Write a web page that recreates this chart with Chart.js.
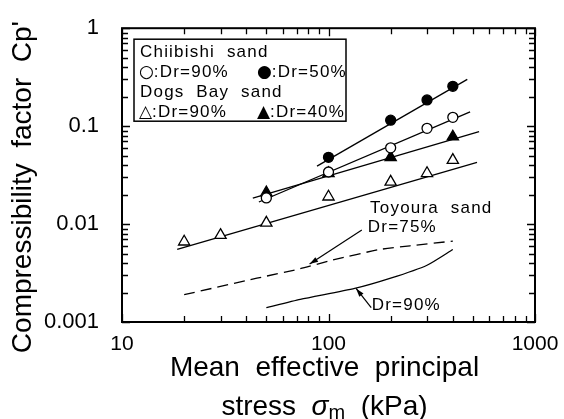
<!DOCTYPE html>
<html>
<head>
<meta charset="utf-8">
<script src="https://cdn.jsdelivr.net/npm/chart.js@4"></script>
<style>
  html, body { margin: 0; padding: 0; background: #fff; }
  #wrap { width: 564px; height: 419px; }
</style>
</head>
<body>
<div id="wrap"><canvas id="cpChart"></canvas></div>
<script>
// axis ticks
const xTicks = [10, 20, 30, 40, 50, 60, 70, 80, 90, 100, 200, 300, 400, 500, 600, 700, 800, 900, 1000];
const xMajor = [10, 100, 1000];
const yTicks = [0.001, 0.002, 0.003, 0.004, 0.005, 0.006, 0.007, 0.008, 0.009,
                0.01, 0.02, 0.03, 0.04, 0.05, 0.06, 0.07, 0.08, 0.09,
                0.1, 0.2, 0.3, 0.4, 0.5, 0.6, 0.7, 0.8, 0.9, 1];
const yMajor = [0.001, 0.01, 0.1, 1];

// measured points
const chiibishi90X = [50, 100, 200, 300, 400];
const chiibishi90Y = [0.0185, 0.034, 0.060, 0.095, 0.123];
const chiibishi50X = [100, 200, 300, 400];
const chiibishi50Y = [0.048, 0.115, 0.185, 0.255];
const dogsBay90X = [20, 30, 50, 100, 200, 300, 400];
const dogsBay90Y = [0.0066, 0.0077, 0.0103, 0.019, 0.027, 0.033, 0.045];
const dogsBay40X = [50, 100, 200, 400];
const dogsBay40Y = [0.021, 0.033, 0.048, 0.078];

// fitted lines (end points)
const chiibishi90FitX = [46, 485];
const chiibishi90FitY = [0.0168, 0.14];
const chiibishi50FitX = [88, 470];
const chiibishi50FitY = [0.039, 0.30];
const dogsBay90FitX = [18.5, 524];
const dogsBay90FitY = [0.0055, 0.0426];
const dogsBay40FitX = [43, 536];
const dogsBay40FitY = [0.0184, 0.088];

// Toyoura sand curves
const toyoura75X = [20, 45, 73, 105, 177, 248, 400];
const toyoura75Y = [0.0019, 0.0028, 0.0035, 0.0043, 0.0055, 0.0060, 0.0067];
const toyoura90X = [50, 73, 134, 200, 300, 400];
const toyoura90Y = [0.0014, 0.0017, 0.0022, 0.0028, 0.0038, 0.0055];

// annotations [kPa, Cp]
const toyouraLabel = { text: 'Toyoura  sand', at: [159, 0.0146] };
const dr75Label = { text: 'Dr=75%', at: [155, 0.0093], arrowFrom: [145, 0.0087], arrowTo: [81, 0.0039] };
const dr90Label = { text: 'Dr=90%', at: [162, 0.00147], arrowFrom: [161, 0.0014], arrowTo: [136, 0.0022] };

// legend rows: [symbol, text] pairs
const legendRows = [
    [['', 'Chiibishi  sand']],
    [['○', ':Dr=90%'], ['●', ':Dr=50%']],
    [['', 'Dogs  Bay  sand']],
    [['△', ':Dr=90%'], ['▲', ':Dr=40%']]
];

const FONT = '"Liberation Sans", Arial, "DejaVu Sans", sans-serif';
const SYMFONT = '"DejaVu Sans", sans-serif';

function pts(xs, ys) {
    return xs.map((x, i) => ({ x: x, y: ys[i] }));
}

function markerSet(xs, ys, style, filled, r) {
    return {
        data: pts(xs, ys),
        showLine: false,
        pointStyle: style,
        pointRadius: r,
        pointBorderWidth: 1.3,
        pointBorderColor: '#000',
        pointBackgroundColor: filled ? '#000' : '#fff'
    };
}

function lineSet(xs, ys, dash, tension) {
    return {
        data: pts(xs, ys),
        borderColor: '#000',
        borderWidth: 1.3,
        borderDash: dash || [],
        pointRadius: 0,
        tension: tension || 0,
        fill: false
    };
}

const ticksPlugin = {
    id: 'inTicks',
    afterDatasetsDraw(chart) {
        const ctx = chart.ctx;
        const a = chart.chartArea;
        const xs = chart.scales.x, ys = chart.scales.y;
        ctx.save();
        ctx.strokeStyle = '#000';
        ctx.lineWidth = 1.3;
        xTicks.forEach(v => {
            const p = Math.round(xs.getPixelForValue(v)) + 0.5;
            const len = xMajor.includes(v) ? 8 : 6;
            ctx.beginPath();
            ctx.moveTo(p, a.bottom);
            ctx.lineTo(p, a.bottom - len);
            ctx.moveTo(p, a.top);
            ctx.lineTo(p, a.top + len);
            ctx.stroke();
        });
        yTicks.forEach(v => {
            const p = Math.round(ys.getPixelForValue(v)) + 0.5;
            const len = yMajor.includes(v) ? 8 : 6;
            ctx.beginPath();
            ctx.moveTo(a.left, p);
            ctx.lineTo(a.left + len, p);
            ctx.moveTo(a.right, p);
            ctx.lineTo(a.right - len, p);
            ctx.stroke();
        });
        ctx.lineWidth = 2;
        ctx.strokeRect(a.left, a.top, a.right - a.left, a.bottom - a.top);
        ctx.restore();
    }
};

const notesPlugin = {
    id: 'notes',
    afterDraw(chart) {
        const ctx = chart.ctx;
        const a = chart.chartArea;
        const xs = chart.scales.x, ys = chart.scales.y;
        ctx.save();
        ctx.strokeStyle = '#000';
        ctx.fillStyle = '#000';

        // legend box
        const bx = a.left + 12, by = a.top + 11;
        ctx.fillStyle = '#fff';
        ctx.fillRect(bx, by, 212, 82);
        ctx.lineWidth = 1.5;
        ctx.strokeRect(bx, by, 212, 82);
        ctx.fillStyle = '#000';
        ctx.textBaseline = 'middle';
        ctx.textAlign = 'left';
        legendRows.forEach((row, i) => {
            const ty = by + 13 + i * 20;
            row.forEach((cell, j) => {
                let x = bx + 6 + j * 118;
                if (cell[0]) {
                    ctx.letterSpacing = '0px';
                    ctx.font = '17px ' + SYMFONT;
                    ctx.fillText(cell[0], x - 1, ty);
                    x += ctx.measureText(cell[0]).width - 1;
                }
                ctx.font = '17px ' + FONT;
                ctx.letterSpacing = '1.2px';
                ctx.fillText(cell[1], x, ty);
            });
        });

        // Toyoura annotations
        const px = (pt) => [xs.getPixelForValue(pt[0]), ys.getPixelForValue(pt[1])];
        ctx.font = '17px ' + FONT;
        ctx.letterSpacing = '1.2px';
        [toyouraLabel, dr75Label, dr90Label].forEach(l => {
            const p = px(l.at);
            ctx.fillText(l.text, p[0], p[1]);
        });
        ctx.letterSpacing = '0px';
        [dr75Label, dr90Label].forEach(l => {
            const f = px(l.arrowFrom), t = px(l.arrowTo);
            const ang = Math.atan2(t[1] - f[1], t[0] - f[0]);
            ctx.lineWidth = 1.2;
            ctx.beginPath();
            ctx.moveTo(f[0], f[1]);
            ctx.lineTo(t[0], t[1]);
            ctx.stroke();
            ctx.beginPath();
            ctx.moveTo(t[0], t[1]);
            ctx.lineTo(t[0] - 9 * Math.cos(ang - 0.3), t[1] - 9 * Math.sin(ang - 0.3));
            ctx.lineTo(t[0] - 9 * Math.cos(ang + 0.3), t[1] - 9 * Math.sin(ang + 0.3));
            ctx.closePath();
            ctx.fill();
        });

        // y axis title
        ctx.save();
        ctx.translate(31, (a.top + a.bottom) / 2 + 12);
        ctx.rotate(-Math.PI / 2);
        ctx.font = '28px ' + FONT;
        ctx.textAlign = 'center';
        ctx.textBaseline = 'alphabetic';
        ctx.fillText("Compressibility  factor  Cp'", 0, 0);
        ctx.restore();

        // x axis title, two lines with sigma_m
        const cx = (a.left + a.right) / 2 - 4;
        ctx.textBaseline = 'alphabetic';
        ctx.textAlign = 'center';
        ctx.font = '28px ' + FONT;
        ctx.fillText('Mean  effective  principal', cx, 376);
        ctx.textAlign = 'left';
        const parts = [
            { t: 'stress  ', f: '28px ' + FONT, dy: 0 },
            { t: 'σ', f: 'italic 28px ' + FONT, dy: 0 },
            { t: 'm', f: '20px ' + FONT, dy: 4 },
            { t: '  (kPa)', f: '28px ' + FONT, dy: 0 }
        ];
        let total = 0;
        parts.forEach(p => { ctx.font = p.f; p.w = ctx.measureText(p.t).width; total += p.w; });
        let x = cx - total / 2;
        parts.forEach(p => { ctx.font = p.f; ctx.fillText(p.t, x, 415 + p.dy); x += p.w; });
        ctx.restore();
    }
};

Chart.defaults.font.family = FONT;
Chart.defaults.color = '#000';

new Chart(document.getElementById('cpChart'), {
    type: 'line',
    data: {
        datasets: [
            markerSet(chiibishi90X, chiibishi90Y, 'circle', false, 5),
            markerSet(chiibishi50X, chiibishi50Y, 'circle', true, 5),
            markerSet(dogsBay90X, dogsBay90Y, 'triangle', false, 6.5),
            markerSet(dogsBay40X, dogsBay40Y, 'triangle', true, 6.5),
            lineSet(chiibishi90FitX, chiibishi90FitY),
            lineSet(chiibishi50FitX, chiibishi50FitY),
            lineSet(dogsBay90FitX, dogsBay90FitY),
            lineSet(dogsBay40FitX, dogsBay40FitY),
            lineSet(toyoura75X, toyoura75Y, [11, 6], 0.2),
            lineSet(toyoura90X, toyoura90Y, [], 0.2)
        ]
    },
    options: {
        responsive: true,
        maintainAspectRatio: false,
        animation: false,
        layout: { padding: { top: 18, right: 29, left: 0, bottom: 0 } },
        plugins: { legend: { display: false }, tooltip: { enabled: false } },
        scales: {
            x: {
                type: 'logarithmic',
                min: 10,
                max: 1000,
                grid: { display: false },
                border: { display: false },
                afterBuildTicks: s => { s.ticks = xTicks.map(v => ({ value: v })); },
                afterFit: s => { s.height = 97; },
                ticks: {
                    autoSkip: false,
                    maxRotation: 0,
                    padding: 2,
                    font: { size: 21 },
                    callback: v => xMajor.includes(v) ? String(v) : ''
                }
            },
            y: {
                type: 'logarithmic',
                min: 0.001,
                max: 1,
                grid: { display: false },
                border: { display: false },
                afterBuildTicks: s => { s.ticks = yTicks.map(v => ({ value: v })); },
                afterFit: s => { s.width = 122; },
                ticks: {
                    autoSkip: false,
                    padding: 15,
                    font: { size: 22 },
                    callback: v => yMajor.includes(v) ? String(v) : ''
                }
            }
        }
    },
    plugins: [ticksPlugin, notesPlugin]
});
</script>
</body>
</html>
